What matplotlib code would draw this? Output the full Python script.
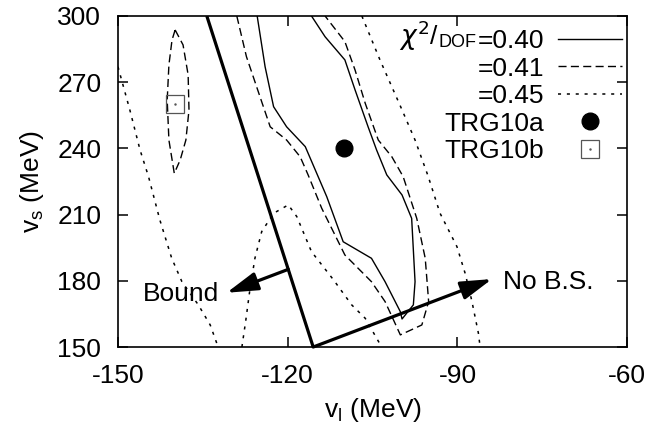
import matplotlib.pyplot as plt
from matplotlib.legend_handler import HandlerTuple

plt.rcParams['font.family'] = ['Liberation Sans', 'DejaVu Sans']
plt.rcParams['font.size'] = 19
plt.rcParams['axes.unicode_minus'] = False

# chi^2/DOF = 0.40 contour (open, both ends on the top edge)
c040_vl = [-125.4, -124.0, -122.5, -120.2, -116.9, -113.1, -110.2, -105.2, -102.8,
           -100.1, -99.8, -97.8, -97.5, -98.1, -99.8, -102.5, -104.3, -105.8,
           -108.1, -109.9, -113.4, -115.8]
c040_vs = [300.0, 277.0, 258.9, 249.8, 240.8, 218.1, 197.7, 190.2, 179.6,
           166.0, 162.7, 169.1, 179.6, 208.3, 218.9, 228.0, 239.3, 249.8,
           266.5, 280.1, 290.6, 300.0]

# chi^2/DOF = 0.41 contour, main branch
c041_vl = [-129.0, -127.3, -124.9, -123.1, -120.2, -117.8, -116.4, -114.0, -109.9,
           -105.2, -102.8, -100.1, -96.3, -95.1, -95.7, -97.2, -99.6, -101.6,
           -104.0, -106.3, -108.1, -109.9, -113.4]
c041_vs = [300.0, 281.6, 263.4, 249.8, 243.8, 236.2, 228.0, 212.9, 191.7,
           179.6, 170.6, 155.5, 160.0, 170.6, 190.2, 208.3, 227.2, 236.2,
           243.8, 260.4, 275.5, 288.4, 300.0]

# chi^2/DOF = 0.41 contour, small island around TRG10b
c041b_vl = [-139.9, -138.5, -137.6, -137.45, -138.0, -139.0, -140.05, -141.0,
            -141.3, -141.0, -140.45, -139.9]
c041b_vs = [293.7, 286.9, 273.3, 257.4, 243.8, 234.8, 228.7, 243.8,
            261.9, 277.8, 289.1, 293.7]

# chi^2/DOF = 0.45 contour, three pieces
c045a_vl = [-150.0, -147.9, -146.1, -144.6, -142.6, -140.5, -138.7, -135.8, -133.7, -132.3]
c045a_vs = [277.0, 257.4, 239.3, 227.2, 207.6, 190.2, 179.6, 169.1, 160.0, 150.0]

c045b_vl = [-128.1, -127.4, -126.7, -125.8, -124.6, -122.5, -119.9, -118.4, -115.8,
            -111.9, -108.7, -106.3, -103.4]
c045b_vs = [150.0, 162.3, 175.8, 190.2, 202.3, 210.6, 214.4, 209.1, 193.2,
            180.4, 169.1, 163.0, 150.0]

c045c_vl = [-106.9, -103.7, -100.1, -97.5, -95.2, -93.1, -90.1, -88.65, -87.5, -86.3, -86.0]
c045c_vs = [300.0, 280.1, 259.2, 243.8, 227.5, 210.7, 195.5, 183.4, 171.3, 156.2, 150.0]

# bound-state boundary and the two direction arrows
bound_vl = [-134.3, -115.5]
bound_vs = [300.0, 150.0]
arrow_bound = ((-119.9, 185.2), (-130.8, 174.6))
arrow_nobs = ((-115.5, 150.0), (-83.9, 180.8))

# fitted points
trg10a = (-110.0, 240.0)
trg10b = (-140.0, 260.0)

labels = ['=0.40', '=0.41', '=0.45', 'TRG10a', 'TRG10b']

dash = (0, (5.8, 3.1))
dot = (0, (2.0, 3.8))

fig = plt.figure(figsize=(6.5, 4.37), dpi=100)
ax = fig.add_axes([0.1815, 0.2059, 0.7835, 0.7575])

l40, = ax.plot(c040_vl, c040_vs, color='black', lw=1.0)
l41, = ax.plot(c041_vl, c041_vs, color='black', lw=1.0, linestyle=dash)
ax.plot(c041b_vl, c041b_vs, color='black', lw=1.0, linestyle=dash)
l45, = ax.plot(c045a_vl, c045a_vs, color='black', lw=1.1, linestyle=dot)
ax.plot(c045b_vl, c045b_vs, color='black', lw=1.1, linestyle=dot)
ax.plot(c045c_vl, c045c_vs, color='black', lw=1.1, linestyle=dot)

ax.plot(bound_vl, bound_vs, color='black', lw=2.3, solid_capstyle='butt')
for (x0, y0), (x1, y1) in (arrow_bound, arrow_nobs):
    ax.annotate('', xy=(x1, y1), xytext=(x0, y0),
                arrowprops=dict(arrowstyle='-|>,head_length=0.95,head_width=0.28',
                                lw=2.3, color='black', shrinkA=0, shrinkB=0,
                                mutation_scale=20))
ax.text(arrow_bound[1][0] - 1.3, arrow_bound[1][1] - 0.8, 'Bound', ha='right', va='center')
ax.text(arrow_nobs[1][0] + 2.0, arrow_nobs[1][1] - 1.3, 'No B.S.', ha='left', va='center')

pa, = ax.plot([trg10a[0]], [trg10a[1]], 'o', color='black', ms=12, ls='none')
pb, = ax.plot([trg10b[0]], [trg10b[1]], 's', mfc='none', mec='#555555', mew=0.9, ms=13, ls='none')
pbd, = ax.plot([trg10b[0]], [trg10b[1]], '.', color='#555555', ms=1.5, ls='none')

ax.set_xlim(-150, -60)
ax.set_ylim(150, 300)
ax.set_xticks([-150, -120, -90, -60])
ax.set_yticks([150, 180, 210, 240, 270, 300])
ax.tick_params(direction='in', length=7, width=1.1, top=True, right=True, pad=12)
for s in ax.spines.values():
    s.set_linewidth(1.2)

ax.set_xlabel(r'v$_\mathregular{l}$ (MeV)', labelpad=6)
ax.set_ylabel(r'v$_\mathregular{s}$ (MeV)', labelpad=8)

leg = ax.legend([l40, l41, l45, pa, (pb, pbd)], labels,
                handler_map={tuple: HandlerTuple(ndivide=1)},
                loc='upper right', bbox_to_anchor=(0.989, 0.96),
                markerfirst=False, frameon=False, handlelength=2.4,
                handletextpad=0.55, labelspacing=0.13, borderpad=0,
                borderaxespad=0, numpoints=1)
for col in leg._legend_handle_box.get_children():
    col.align = 'right'

# chi^2/DOF prefix in front of the first legend entry, DOF set smaller
dof = ax.annotate('DOF', xy=(0, 0), xycoords=leg.get_texts()[0],
                  xytext=(-0.5, 1.6), textcoords='offset points',
                  ha='right', va='bottom', fontsize=13, zorder=6)
ax.annotate(r'$\chi^2$/', xy=(0, 0), xycoords=dof,
            xytext=(0, -1.6), textcoords='offset points',
            ha='right', va='bottom', zorder=6)

fig.savefig('out.png', dpi=100, facecolor='white')
